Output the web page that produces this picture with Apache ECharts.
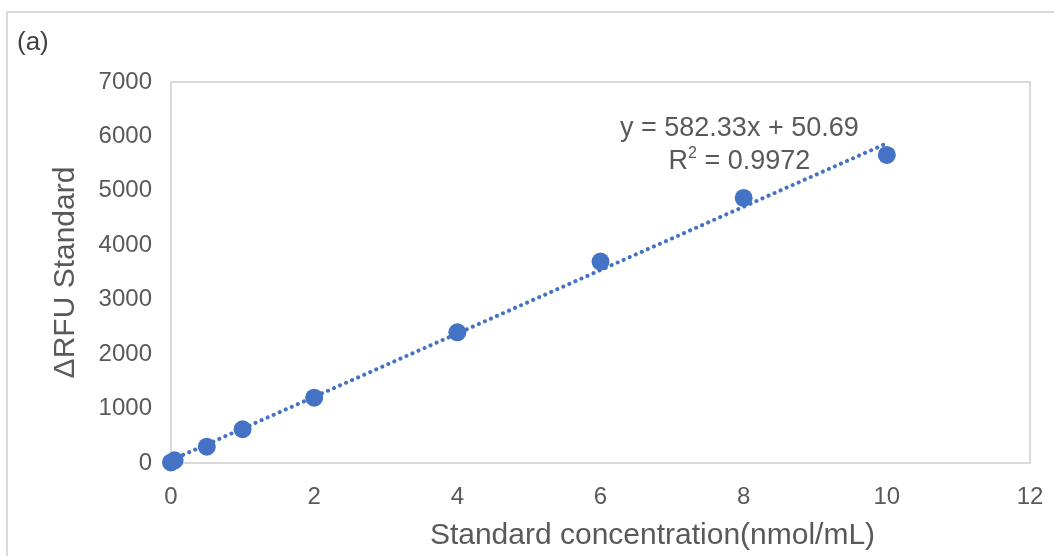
<!DOCTYPE html>
<html><head><meta charset="utf-8">
<script src="https://cdn.jsdelivr.net/npm/echarts@6/dist/echarts.min.js"></script>
<style>html,body{margin:0;padding:0;background:#fff}#c{width:1054px;height:556px}</style>
</head><body><div id="c"></div>
<script>
const concX = [0, 0.05, 0.5, 1, 2, 4, 6, 8, 10];
const rfuY = [10, 50, 300, 620, 1200, 2400, 3700, 4870, 5660];
const trendX = [0, 10];
const trendY = [50.69, 5874];
const xTicks = [0, 2, 4, 6, 8, 10, 12];
const yTicks = [0, 1000, 2000, 3000, 4000, 5000, 6000, 7000];
const eqText = ['y = 582.33x + 50.69', 'R{s|2} = 0.9972'];

const chart = echarts.init(document.getElementById('c'));
const font = 'Arial, "Liberation Sans", sans-serif';
chart.setOption({
  animation: false,
  backgroundColor: '#fff',
  graphic: [
    {type: 'rect', shape: {x: 7, y: 12, width: 1060, height: 600}, style: {fill: 'none', stroke: '#d9d9d9', lineWidth: 2}},
    {type: 'text', left: 17, top: 30, style: {text: '(a)', font: '26px ' + font, fill: '#404040'}}
  ],
  grid: {left: 171, top: 82, right: 24, bottom: 93, show: true, borderColor: '#d9d9d9', borderWidth: 2, backgroundColor: 'transparent'},
  xAxis: {
    type: 'value', min: xTicks[0], max: xTicks[xTicks.length - 1], interval: 2,
    name: 'Standard concentration(nmol/mL)', nameLocation: 'middle', nameGap: 58,
    nameTextStyle: {fontSize: 30, color: '#595959', fontFamily: font, padding: [0, 0, 0, 104]},
    axisLine: {show: true, lineStyle: {color: '#d9d9d9', width: 2}},
    axisTick: {show: false}, splitLine: {show: false},
    axisLabel: {fontSize: 24, color: '#595959', fontFamily: font, margin: 22, formatter: v => String(v)}
  },
  yAxis: {
    type: 'value', min: yTicks[0], max: yTicks[yTicks.length - 1], interval: 1000,
    name: 'ΔRFU Standard', nameLocation: 'middle', nameGap: 90,
    nameTextStyle: {fontSize: 30, color: '#595959', fontFamily: font},
    axisLine: {show: true, lineStyle: {color: '#d9d9d9', width: 2}},
    axisTick: {show: false}, splitLine: {show: false},
    axisLabel: {fontSize: 24, color: '#595959', fontFamily: font, margin: 19, formatter: v => String(v)}
  },
  series: [
    {
      type: 'line', data: trendX.map((x, i) => [x, trendY[i]]), symbol: 'none', z: 1,
      lineStyle: {color: '#4472C4', width: 4, type: [0.1, 6.5], cap: 'round'},
      markPoint: {
        symbol: 'rect', symbolSize: 0,
        data: [{coord: [7.94, 5840], label: {show: true, formatter: eqText.join('\n'), fontSize: 27, lineHeight: 33, color: '#595959', fontFamily: font, align: 'center',
          rich: {s: {fontSize: 16, verticalAlign: 'top', color: '#595959', padding: [0, 0, 12, 0]}}}}]
      }
    },
    {
      type: 'scatter', data: concX.map((x, i) => [x, rfuY[i]]), symbol: 'circle', symbolSize: 18, z: 2,
      itemStyle: {color: '#4472C4', opacity: 1}
    }
  ]
});
</script></body></html>
